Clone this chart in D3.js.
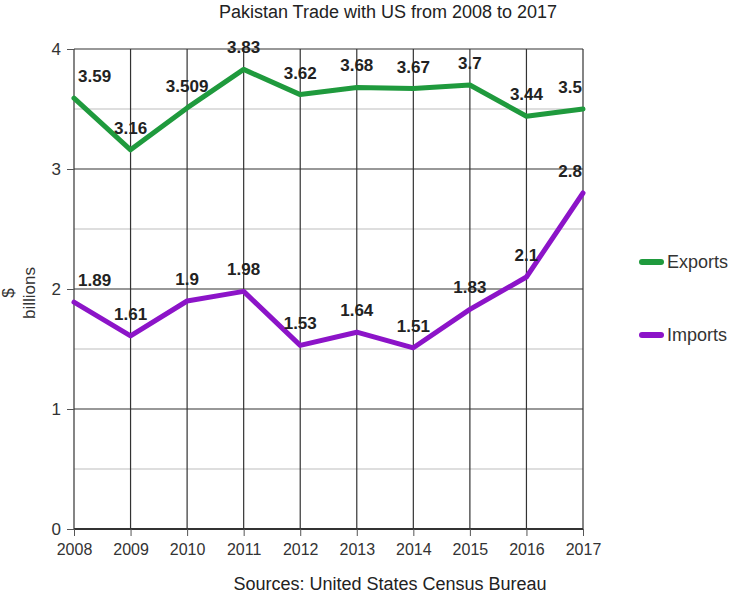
<!DOCTYPE html>
<html>
<head>
<meta charset="utf-8">
<script src="https://cdn.jsdelivr.net/npm/d3@7"></script>
<style>
  body { margin: 0; background: #fff; }
  svg { display: block; font-family: "Liberation Sans", Arial, sans-serif; }
</style>
</head>
<body>
<svg id="chart" width="735" height="594"></svg>
<script>
const years = [2008, 2009, 2010, 2011, 2012, 2013, 2014, 2015, 2016, 2017];
const exportsVals = [3.59, 3.16, 3.509, 3.83, 3.62, 3.68, 3.67, 3.7, 3.44, 3.5];
const importsVals = [1.89, 1.61, 1.9, 1.98, 1.53, 1.64, 1.51, 1.83, 2.1, 2.8];
const exportsLabels = ["3.59", "3.16", "3.509", "3.83", "3.62", "3.68", "3.67", "3.7", "3.44", "3.5"];
const importsLabels = ["1.89", "1.61", "1.9", "1.98", "1.53", "1.64", "1.51", "1.83", "2.1", "2.8"];
const yTicks = [0, 1, 2, 3, 4];
const yMinor = [0.5, 1.5, 2.5, 3.5];

const svg = d3.select("#chart");
const plotLeft = 74, plotRight = 583, plotTop = 49, plotBottom = 529;

const x = d3.scalePoint().domain(years).range([plotLeft, plotRight]);
const y = d3.scaleLinear().domain([0, 4]).range([plotBottom, plotTop]);

// minor horizontal grid
svg.append("g").selectAll("line").data(yMinor).join("line")
  .attr("x1", plotLeft).attr("x2", plotRight)
  .attr("y1", d => y(d)).attr("y2", d => y(d))
  .attr("stroke", "#bdbdbd").attr("stroke-width", 1);

// vertical grid
svg.append("g").selectAll("line").data(years).join("line")
  .attr("x1", d => x(d)).attr("x2", d => x(d))
  .attr("y1", plotTop).attr("y2", plotBottom)
  .attr("stroke", "#333").attr("stroke-width", 1.2);

// major horizontal grid
svg.append("g").selectAll("line").data(yTicks).join("line")
  .attr("x1", plotLeft).attr("x2", plotRight)
  .attr("y1", d => y(d)).attr("y2", d => y(d))
  .attr("stroke", "#333").attr("stroke-width", d => d === 0 ? 1.8 : 1.2);

// y axis
const yAxis = svg.append("g").attr("transform", `translate(${plotLeft},0)`)
  .call(d3.axisLeft(y).tickValues(yTicks).tickSize(7).tickPadding(6).tickFormat(d3.format("d")));
yAxis.select(".domain").remove();
yAxis.selectAll(".tick line").attr("stroke", "#555");
yAxis.selectAll("text").attr("font-size", 17).attr("fill", "#333")
  .attr("font-family", "'Liberation Sans', Arial, sans-serif");

// x axis
const xAxis = svg.append("g").attr("transform", `translate(0,${plotBottom})`)
  .call(d3.axisBottom(x).tickSize(7).tickPadding(8).tickFormat(d3.format("d")));
xAxis.select(".domain").remove();
xAxis.selectAll(".tick line").attr("stroke", "#555");
xAxis.selectAll("text").attr("font-size", 16).attr("fill", "#333")
  .attr("font-family", "'Liberation Sans', Arial, sans-serif");

// series
const series = [
  { name: "Exports", values: exportsVals, labels: exportsLabels, color: "#1f9a3d", legendY: 262 },
  { name: "Imports", values: importsVals, labels: importsLabels, color: "#8c14c8", legendY: 335 }
];

const line = d3.line().x((d, i) => x(years[i])).y(d => y(d));

series.forEach(s => {
  svg.append("path").datum(s.values)
    .attr("d", line)
    .attr("fill", "none")
    .attr("stroke", s.color)
    .attr("stroke-width", 5)
    .attr("stroke-linejoin", "round")
    .attr("stroke-linecap", "round");

  const n = s.values.length;
  svg.append("g").selectAll("text").data(s.values).join("text")
    .attr("x", (d, i) => x(years[i]) + (i === 0 ? 4 : i === n - 1 ? -1 : 0))
    .attr("y", d => y(d) - 16)
    .attr("text-anchor", (d, i) => i === 0 ? "start" : i === n - 1 ? "end" : "middle")
    .attr("font-size", 17)
    .attr("font-weight", "bold")
    .attr("fill", "#222")
    .text((d, i) => s.labels[i]);

  // legend
  svg.append("line")
    .attr("x1", 642).attr("x2", 661)
    .attr("y1", s.legendY).attr("y2", s.legendY)
    .attr("stroke", s.color).attr("stroke-width", 6).attr("stroke-linecap", "round");
  svg.append("text")
    .attr("x", 667).attr("y", s.legendY + 6)
    .attr("font-size", 18).attr("fill", "#333")
    .text(s.name);
});

// title
svg.append("text")
  .attr("x", 388).attr("y", 18)
  .attr("text-anchor", "middle")
  .attr("font-size", 18).attr("fill", "#222")
  .text("Pakistan Trade with US from 2008 to 2017");

// source
svg.append("text")
  .attr("x", 390).attr("y", 590)
  .attr("text-anchor", "middle")
  .attr("font-size", 18).attr("fill", "#222")
  .text("Sources: United States Census Bureau");

// y axis title
const yt = svg.append("text")
  .attr("transform", "translate(0,293) rotate(-90)")
  .attr("text-anchor", "middle")
  .attr("font-size", 17).attr("fill", "#333");
yt.append("tspan").attr("x", 0).attr("y", 14).text("$");
yt.append("tspan").attr("x", 0).attr("y", 35).text("billions");
</script>
</body>
</html>
